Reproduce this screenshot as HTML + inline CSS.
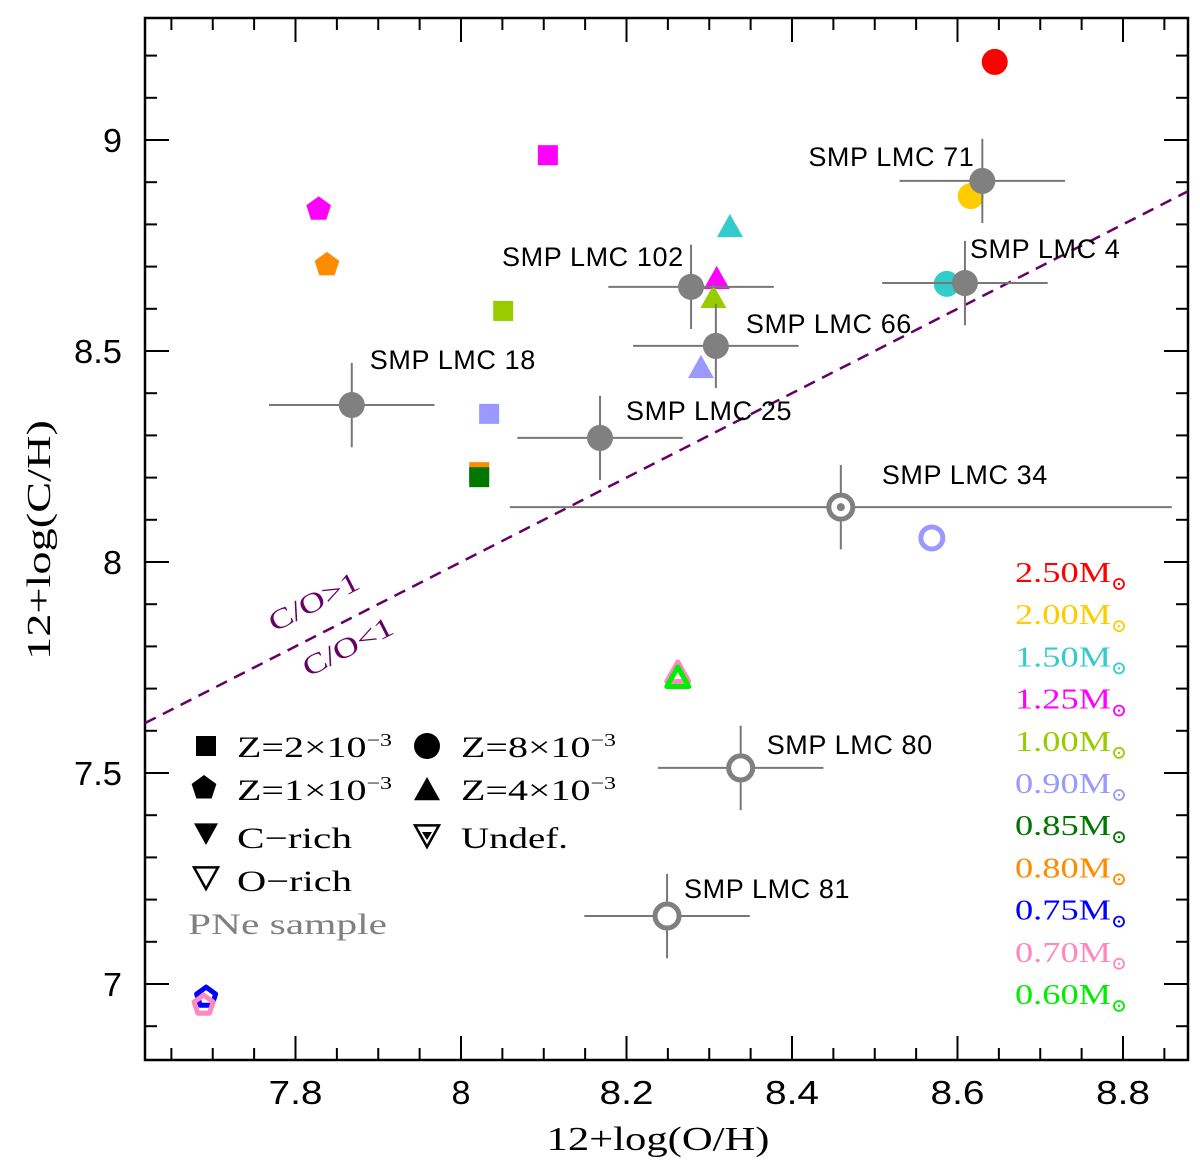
<!DOCTYPE html>
<html><head><meta charset="utf-8"><style>
html,body{margin:0;padding:0;background:#fff;}
svg{display:block;}
.ser{font-family:"Liberation Serif",serif;}
.sans{font-family:"Liberation Sans",sans-serif;}
</style></head><body>
<svg id="chart" width="1200" height="1164" viewBox="0 0 1200 1164" xmlns="http://www.w3.org/2000/svg"></svg>
<script>
// ---- data ----
const pneNames = ["SMP LMC 71","SMP LMC 4","SMP LMC 102","SMP LMC 66","SMP LMC 18","SMP LMC 25","SMP LMC 34","SMP LMC 80","SMP LMC 81"];
const pneOH = [8.63,8.609,8.278,8.308,7.868,8.168,8.459,8.338,8.249];
const pneCH = [8.903,8.661,8.652,8.512,8.372,8.294,8.130,7.512,7.161];
const pneXErr = [0.1,0.1,0.1,0.1,0.1,0.1,0.4,0.1,0.1];
const pneYErr = [0.1,0.1,0.1,0.1,0.1,0.1,0.1,0.1,0.1];
const pneType = ["c","c","c","c","c","c","u","o","o"];
const pneLabelDX = [-174,5,-189,30,18,26,41,26,17];
const pneLabelDY = [-15,-25,-21,-13,-36,-18,-23,-14,-18];

const modOH = [8.645,8.616,8.587,8.325,8.105,8.309,7.828,7.838,8.051,8.305,8.034,8.290,8.569,8.022,8.022,8.262,8.262,7.692,7.689];
const modCH = [9.185,8.867,8.659,8.794,8.964,8.671,8.836,8.704,8.595,8.626,8.351,8.460,8.057,8.213,8.201,7.737,7.725,6.969,6.950];
const modShape = ["circle","circle","circle","tri","square","tri","pent","pent","square","tri","square","tri","circle","square","square","tri","tri","pent","pent"];
const modColor = ["#ff0000","#ffcc00","#33cccc","#33cccc","#ff00ff","#ff00ff","#ff00ff","#ff8c00","#99cc00","#99cc00","#9999ff","#9999ff","#9999ff","#ff8c00","#007700","#ff88c0","#00ee00","#0000ff","#ff88c0"];
const modOpen = [0,0,0,0,0,0,0,0,0,0,0,0,1,0,0,1,1,1,1];

const massLabels = ["2.50","2.00","1.50","1.25","1.00","0.90","0.85","0.80","0.75","0.70","0.60"];
const massColors = ["#ff0000","#ffcc00","#33cccc","#ff00ff","#99cc00","#9999ff","#007700","#ff8c00","#0000ff","#ff88c0","#00ee00"];

const xTicks = [7.8,8.0,8.2,8.4,8.6,8.8];
const xTickLabels = ["7.8","8","8.2","8.4","8.6","8.8"];
const yTicks = [7,7.5,8,8.5,9];
const yTickLabels = ["7","7.5","8","8.5","9"];

// ---- axes ----
const L=145,R=1188,T=18,B=1060;
const X=v=>461+(v-8)*827.5;
const Y=v=>562-(v-8)*422;
const xMin=(L-461)/827.5+8, xMax=(R-461)/827.5+8;
const yMin=8-(B-562)/422, yMax=8+(562-T)/422;

const svg=document.getElementById('chart');
const NS="http://www.w3.org/2000/svg";
function mk(tag,attrs,parent){const e=document.createElementNS(NS,tag);for(const k in attrs)e.setAttribute(k,attrs[k]);(parent||svg).appendChild(e);return e;}

const frame=mk('rect',{x:L,y:T,width:R-L,height:B-T,fill:'none',stroke:'#000','stroke-width':2.5});



const tg=mk('g',{stroke:'#000','stroke-width':2});


for(let i=0;i*0.05+7.65<=xMax+1e-9;i++){const v=7.65+i*0.05;if(v<xMin)continue;const major=Math.abs(v*10-Math.round(v*10))<1e-6&&Math.round(v*10)%2===0;const len=major?24:12;const x=X(v);
mk('line',{x1:x,y1:B,x2:x,y2:B-len},tg);mk('line',{x1:x,y1:T,x2:x,y2:T+len},tg);}
for(let i=0;6.8+i*0.1<=yMax+1e-9;i++){const v=6.8+i*0.1;if(v<yMin)continue;const major=Math.abs(v*2-Math.round(v*2))<1e-6;const len=major?24:12;const y=Y(v);
mk('line',{x1:L,y1:y,x2:L+len,y2:y},tg);mk('line',{x1:R,y1:y,x2:R-len,y2:y},tg);}

xTicks.forEach((v,i)=>{const s=xTickLabels[i];const t=mk('text',{x:X(v),y:1104,'text-anchor':'middle','font-size':33,class:'sans',textLength:s.length>1?54:19,lengthAdjust:'spacingAndGlyphs'});t.textContent=s;
});
yTicks.forEach((v,i)=>{const s=yTickLabels[i];const t=mk('text',{x:122,y:Y(v)+12,'text-anchor':'end','font-size':33,class:'sans',textLength:s.length>1?48:19,lengthAdjust:'spacingAndGlyphs'});t.textContent=s;
});

const xt=mk('text',{x:658,y:1150,'text-anchor':'middle','font-size':34,class:'ser',textLength:223,lengthAdjust:'spacingAndGlyphs'});xt.textContent="12+log(O/H)";

const yt=mk('text',{x:0,y:0,'text-anchor':'middle','font-size':34,class:'ser',textLength:240,lengthAdjust:'spacingAndGlyphs',transform:'translate(50,540) rotate(-90)'});yt.textContent="12+log(C/H)";


const dl=mk('line',{x1:X(xMin),y1:Y(xMin),x2:X(xMax),y2:Y(xMax),stroke:'#660066','stroke-width':2.5,'stroke-dasharray':'12,8'});

const ang=Math.atan2(Y(xMax)-Y(xMin),X(xMax)-X(xMin))*180/Math.PI;
const c1=mk('text',{x:0,y:0,'font-size':28,fill:'#660066',class:'ser','text-anchor':'middle',textLength:98,lengthAdjust:'spacingAndGlyphs',transform:`translate(318,610) rotate(${ang})`});c1.textContent="C/O>1";

const c2=mk('text',{x:0,y:0,'font-size':28,fill:'#660066',class:'ser','text-anchor':'middle',textLength:98,lengthAdjust:'spacingAndGlyphs',transform:`translate(352,655) rotate(${ang})`});c2.textContent="C/O<1";


function marker(shape,cx,cy,color,open,parent){
  const sw=open?5:0, fill=open?'none':color, st=open?color:'none';
  if(shape==='circle') return mk('circle',{cx,cy,r:open?11:13,fill,stroke:st,'stroke-width':sw},parent);
  if(shape==='square') return mk('rect',{x:cx-10,y:cy-10,width:20,height:20,fill,stroke:st,'stroke-width':sw},parent);
  if(shape==='tri'){const s=open?10:12;return mk('polygon',{points:`${cx},${cy-s-1} ${cx+s+1},${cy+s*0.85} ${cx-s-1},${cy+s*0.85}`,fill,stroke:st,'stroke-width':sw,'stroke-linejoin':'round'},parent);}
  if(shape==='pent'){const r=open?10:13;let p=[];for(let k=0;k<5;k++){const a=-Math.PI/2+k*2*Math.PI/5;p.push((cx+r*Math.cos(a)).toFixed(1)+','+(cy+r*Math.sin(a)).toFixed(1));}
    return mk('polygon',{points:p.join(' '),fill,stroke:st,'stroke-width':sw,'stroke-linejoin':'round'},parent);}
  if(shape==='dtri'){const s=12;return mk('polygon',{points:`${cx-s},${cy-s*0.8} ${cx+s},${cy-s*0.8} ${cx},${cy+s}`,fill,stroke:st,'stroke-width':open?2.5:0},parent);}
}

modOH.forEach((v,i)=>{const m=marker(modShape[i],X(v),Y(modCH[i]),modColor[i],modOpen[i]);
});

pneOH.forEach((v,i)=>{
  const g=mk('g',{});
  
  const cx=X(v),cy=Y(pneCH[i]);
  mk('line',{x1:X(v-pneXErr[i]),y1:cy,x2:X(v+pneXErr[i]),y2:cy,stroke:'#777','stroke-width':2},g);
  mk('line',{x1:cx,y1:Y(pneCH[i]-pneYErr[i]),x2:cx,y2:Y(pneCH[i]+pneYErr[i]),stroke:'#777','stroke-width':2},g);
  if(pneType[i]==='c') mk('circle',{cx,cy,r:13,fill:'#808080'},g);
  else { mk('circle',{cx,cy,r:12,fill:'#fff',stroke:'#808080','stroke-width':5},g);
    if(pneType[i]==='u') mk('circle',{cx,cy,r:4,fill:'#808080'},g); }
  const t=mk('text',{x:cx+pneLabelDX[i],y:cy+pneLabelDY[i],'font-size':27,class:'sans','letter-spacing':0.6});t.textContent=pneNames[i];
  
});

massLabels.forEach((m,i)=>{const y=582+i*42.2;
 const t=mk('text',{x:1111,y,'text-anchor':'end','font-size':29,fill:massColors[i],class:'ser',textLength:96,lengthAdjust:'spacingAndGlyphs'});t.textContent=m+"M";
 
 mk('circle',{cx:1119,cy:y+2,r:5,fill:'none',stroke:massColors[i],'stroke-width':1.8});
 mk('circle',{cx:1119,cy:y+2,r:1.2,fill:massColors[i]});
});

const lg=mk('g',{});

function ltext(x,y,html,len,col){const t=mk('text',{x,y,'font-size':30,class:'ser',fill:col||'#000',textLength:len,lengthAdjust:'spacingAndGlyphs'},lg);t.innerHTML=html;return t;}
marker('square',206,746,'#000',0,lg); ltext(237,757,'Z=2×10<tspan font-size="18" dy="-11">−3</tspan>',155);
marker('pent',204,788,'#000',0,lg); ltext(237,800,'Z=1×10<tspan font-size="18" dy="-11">−3</tspan>',155);
marker('dtri',206,833,'#000',0,lg); ltext(237,848,'C−rich',115);
marker('dtri',206,877,'#000',1,lg); ltext(237,891,'O−rich',115);
marker('circle',427,746,'#000',0,lg); ltext(461,757,'Z=8×10<tspan font-size="18" dy="-11">−3</tspan>',155);
marker('tri',427,790,'#000',0,lg); ltext(461,800,'Z=4×10<tspan font-size="18" dy="-11">−3</tspan>',155);
marker('dtri',427,835,'#000',1,lg); mk('polygon',{points:'422,832 432,832 427,840',fill:'#000'},lg); ltext(461,848,'Undef.',107);
ltext(188,934,'PNe sample',199,'#808080');
</script>
</body></html>
